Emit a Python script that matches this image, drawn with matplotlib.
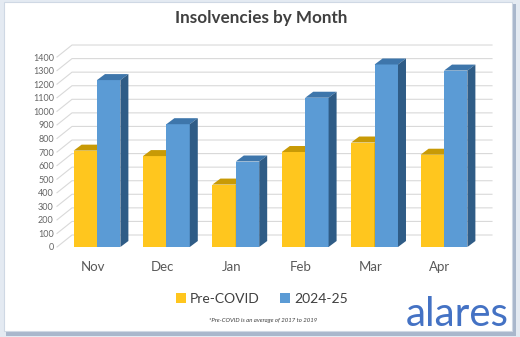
import matplotlib.pyplot as plt
import numpy as np
from matplotlib.patches import Polygon, Rectangle, Patch

months = ["Nov", "Dec", "Jan", "Feb", "Mar", "Apr"]
pre_covid = [710, 670, 460, 700, 770, 680]
fy_2024_25 = [1230, 905, 630, 1100, 1345, 1300]
y_ticks = list(range(0, 1500, 100))

plt.rcParams['font.family'] = ['Lato', 'DejaVu Sans']

W, H = 520, 337
fig = plt.figure(figsize=(W / 100, H / 100), dpi=100, facecolor='#e4eaf2')

# card with a soft shadow
fig.patches.append(Rectangle((6 / W, 1 - 336 / H), 510 / W, 332 / H, transform=fig.transFigure,
                             facecolor='#a9b7cc', edgecolor='none', zorder=-3))
fig.patches.append(Rectangle((4 / W, 1 - 331 / H), 508 / W, 329 / H, transform=fig.transFigure,
                             facecolor='white', edgecolor='#cfd8e4', lw=0.8, zorder=-2))

# axes placed in pixels: front plane 0 at y=247, category 0 at x=97
px_left, px_right, px_bottom, px_top = 58, 500, 247, 30
unit_x = 69.4
unit_y = 13.57 / 100
ax = fig.add_axes([px_left / W, 1 - px_bottom / H, (px_right - px_left) / W, (px_bottom - px_top) / H])
ax.set_xlim((px_left - 97) / unit_x, (px_right - 97) / unit_x)
ax.set_ylim(0, (px_bottom - px_top) / unit_y)
ax.patch.set_alpha(0)
for s in ax.spines.values():
    s.set_visible(False)

# back wall gridlines with perspective offset
gx, gy = 15 / unit_x, 12 / unit_y
x_wall = (57 - 97) / unit_x
x_end = (492 - 97) / unit_x
for v in y_ticks:
    ax.plot([x_wall, x_wall + gx, x_end], [v, v + gy, v + gy], color='#d9d9d9', lw=0.8,
            zorder=1, clip_on=False)

ax.set_yticks(y_ticks)
ax.set_yticklabels([str(v) for v in y_ticks], fontsize=6.5, color='#666666')
ax.tick_params(axis='y', length=0, pad=3)

x = np.arange(len(months))
ax.set_xticks(x - 0.06)
ax.set_xticklabels(months, fontsize=9.5, color='#595959')
ax.tick_params(axis='x', length=0, pad=10)

# pseudo-3D columns
bw = 0.337
dx, dy = 8 / unit_x, 6 / unit_y


def column(x0, v, front, top, side, z):
    ax.bar(x0, v, width=bw, align='edge', color=front, zorder=z)
    x1 = x0 + bw
    ax.add_patch(Polygon([(x0, v), (x1, v), (x1 + dx, v + dy), (x0 + dx, v + dy)],
                         closed=True, facecolor=top, edgecolor='none', zorder=z))
    ax.add_patch(Polygon([(x1, 0), (x1, v), (x1 + dx, v + dy), (x1 + dx, dy)],
                         closed=True, facecolor=side, edgecolor='none', zorder=z))


for i in range(len(months)):
    column(x[i] - bw, pre_covid[i], '#ffc61e', '#c89a06', '#b88c00', 3)
    column(x[i], fy_2024_25[i], '#5b9bd5', '#3e76ab', '#2f5c86', 4)

fig.text(261 / W, 1 - 18 / H, "Insolvencies by Month", ha='center', va='center',
         fontsize=12.3, fontweight='bold', color='#404040')

handles = [Patch(facecolor='#ffc61e', edgecolor='none'), Patch(facecolor='#5b9bd5', edgecolor='none')]
fig.legend(handles, ["Pre-COVID", "2024-25"], loc='center', bbox_to_anchor=(262 / W, 1 - 299 / H),
           ncol=2, frameon=False, fontsize=10, labelcolor='#404040', handlelength=0.7,
           handleheight=0.7, handletextpad=0.3, columnspacing=1.5)

fig.text(263 / W, 1 - 320 / H, "*Pre-COVID is an average of 2017 to 2019", ha='center', va='center',
         fontsize=4.3, style='italic', color='#404040')

fig.text(509 / W, 1 - 326 / H, "alares", ha='right', va='baseline', fontsize=29,
         color='#4472c4')

fig.savefig('out.png', dpi=100, facecolor=fig.get_facecolor())
